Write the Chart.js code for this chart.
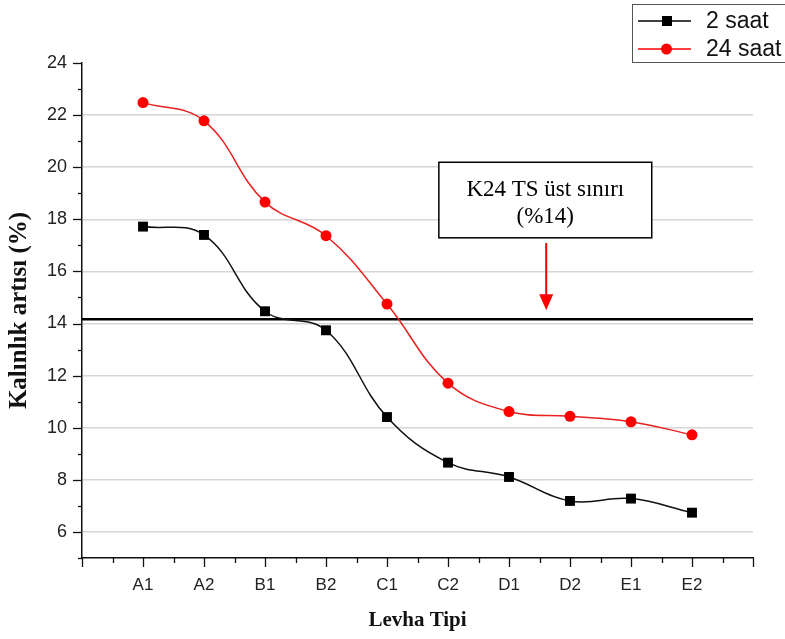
<!DOCTYPE html>
<html>
<head>
<meta charset="utf-8">
<script src="https://cdn.jsdelivr.net/npm/chart.js@4.4.1/dist/chart.umd.min.js"></script>
<style>
  html, body { margin: 0; padding: 0; background: #fff; }
</style>
</head>
<body>
<canvas id="myChart" width="785" height="639"></canvas>
<script>
// plate types on the x axis (placed at 1..10, axis runs 0..11)
const plates = ['A1', 'A2', 'B1', 'B2', 'C1', 'C2', 'D1', 'D2', 'E1', 'E2'];
const saat2 = [17.72, 17.40, 14.47, 13.74, 10.41, 8.66, 8.11, 7.19, 7.28, 6.74];
const saat24 = [22.48, 21.78, 18.66, 17.37, 14.75, 11.71, 10.62, 10.44, 10.23, 9.73];
const seriesNames = ['2 saat', '24 saat'];
const limitValue = 14.16;   // K24 TS upper limit line
const noteLines = ['K24 TS üst sınırı', '(%14)'];
const yMin = 5, yMax = 24;

const sansFont = "'Liberation Sans', Arial, sans-serif";
const serifFont = "'Liberation Serif', 'Times New Roman', serif";

const toPoints = arr => arr.map((v, i) => ({ x: i + 1, y: v }));

// ticks, annotation, legend
const extras = {
  id: 'extras',
  afterDraw(chart) {
    const { ctx, chartArea: area, scales: { x, y } } = chart;
    ctx.save();
    ctx.strokeStyle = '#111';
    ctx.lineWidth = 1.3;
    for (let v = yMin; v <= yMax; v++) {
      const py = Math.round(y.getPixelForValue(v)) + 0.5;
      const len = v % 2 === 0 ? 9 : 4;
      ctx.beginPath();
      ctx.moveTo(area.left - len, py);
      ctx.lineTo(area.left, py);
      ctx.stroke();
    }
    for (let v = 0; v <= 11; v += 0.5) {
      const px = Math.round(x.getPixelForValue(v)) + 0.5;
      const len = Number.isInteger(v) ? 9 : 5;
      ctx.beginPath();
      ctx.moveTo(px, area.bottom);
      ctx.lineTo(px, area.bottom + len);
      ctx.stroke();
    }

    // note box
    const bx1 = x.getPixelForValue(5.85), bx2 = x.getPixelForValue(9.34);
    const by1 = y.getPixelForValue(20.19), by2 = y.getPixelForValue(17.29);
    ctx.fillStyle = '#fff';
    ctx.fillRect(bx1, by1, bx2 - bx1, by2 - by1);
    ctx.strokeStyle = '#000';
    ctx.lineWidth = 1.5;
    ctx.strokeRect(bx1, by1, bx2 - bx1, by2 - by1);
    ctx.fillStyle = '#000';
    ctx.font = '23px ' + serifFont;
    ctx.textAlign = 'center';
    ctx.textBaseline = 'middle';
    const cx = (bx1 + bx2) / 2;
    ctx.fillText(noteLines[0], cx, (by1 + by2) / 2 - 10);
    ctx.fillText(noteLines[1], cx, (by1 + by2) / 2 + 17);

    // arrow
    const ax = x.getPixelForValue(7.61);
    const ay1 = y.getPixelForValue(17.09), ay2 = y.getPixelForValue(14.51);
    ctx.strokeStyle = '#ff0000';
    ctx.fillStyle = '#ff0000';
    ctx.lineWidth = 2;
    ctx.beginPath();
    ctx.moveTo(ax, ay1);
    ctx.lineTo(ax, ay2 - 14);
    ctx.stroke();
    ctx.beginPath();
    ctx.moveTo(ax - 7, ay2 - 16);
    ctx.lineTo(ax + 7, ay2 - 16);
    ctx.lineTo(ax, ay2);
    ctx.closePath();
    ctx.fill();

    // legend
    ctx.strokeStyle = '#555';
    ctx.lineWidth = 1;
    ctx.strokeRect(632.5, 4.5, 170, 58);
    const rows = [
      { y: 21, color: '#000', style: 'rect' },
      { y: 49, color: '#ff0000', style: 'circle' }
    ];
    ctx.font = '23px ' + sansFont;
    ctx.textAlign = 'left';
    ctx.textBaseline = 'middle';
    rows.forEach((r, i) => {
      ctx.strokeStyle = r.color;
      ctx.fillStyle = r.color;
      ctx.lineWidth = 1.6;
      ctx.beginPath();
      ctx.moveTo(638, r.y);
      ctx.lineTo(691, r.y);
      ctx.stroke();
      if (r.style === 'rect') {
        ctx.fillRect(662, r.y - 5, 10, 10);
      } else {
        ctx.beginPath();
        ctx.arc(666.5, r.y, 5.5, 0, Math.PI * 2);
        ctx.fill();
      }
      ctx.fillStyle = '#111';
      ctx.fillText(seriesNames[i], 706, r.y + 1);
    });
    ctx.restore();
  }
};

new Chart(document.getElementById('myChart'), {
  type: 'line',
  data: {
    datasets: [
      {
        label: seriesNames[0],
        data: toPoints(saat2),
        borderColor: '#111',
        backgroundColor: '#000',
        borderWidth: 1.5,
        pointStyle: 'rect',
        pointRadius: 7,
        pointBorderWidth: 0,
        tension: 0.4
      },
      {
        label: seriesNames[1],
        data: toPoints(saat24),
        borderColor: '#e8201e',
        backgroundColor: '#ff0000',
        borderWidth: 1.5,
        pointStyle: 'circle',
        pointRadius: 5.5,
        pointBorderWidth: 0,
        tension: 0.4
      },
      {
        label: 'limit',
        data: [{ x: 0, y: limitValue }, { x: 11, y: limitValue }],
        borderColor: '#000',
        borderWidth: 2.5,
        pointRadius: 0,
        tension: 0
      }
    ]
  },
  options: {
    responsive: false,
    animation: false,
    events: [],
    layout: { padding: { top: 63, right: 32, left: 0, bottom: 0 } },
    plugins: { legend: { display: false }, tooltip: { enabled: false } },
    scales: {
      x: {
        type: 'linear',
        min: 0,
        max: 11,
        afterFit(scale) { scale.height = 81; },
        ticks: {
          stepSize: 1,
          autoSkip: false,
          maxRotation: 0,
          padding: 17,
          color: '#222',
          font: { family: sansFont, size: 17 },
          callback: v => plates[v - 1] || ''
        },
        grid: { drawOnChartArea: false, drawTicks: false },
        border: { color: '#111', width: 1.5 },
        title: {
          display: true,
          text: 'Levha Tipi',
          color: '#111',
          font: { family: serifFont, size: 21, weight: 'bold' },
          padding: { top: 0, bottom: 6 }
        }
      },
      y: {
        min: yMin,
        max: yMax,
        afterFit(scale) { scale.width = 82; },
        ticks: {
          stepSize: 2,
          includeBounds: false,
          padding: 15,
          color: '#222',
          font: { family: sansFont, size: 18 }
        },
        grid: {
          drawTicks: false,
          lineWidth: 1.5,
          color: c => (c.tick && c.tick.value === yMax) ? 'rgba(0,0,0,0)' : '#d6d6d6'
        },
        border: { color: '#111', width: 1.5 },
        title: {
          display: true,
          text: 'Kalınlık artısı (%)',
          color: '#111',
          font: { family: serifFont, size: 25, weight: 'bold' },
          padding: { top: 5, bottom: 0 }
        }
      }
    }
  },
  plugins: [extras]
});
</script>
</body>
</html>
